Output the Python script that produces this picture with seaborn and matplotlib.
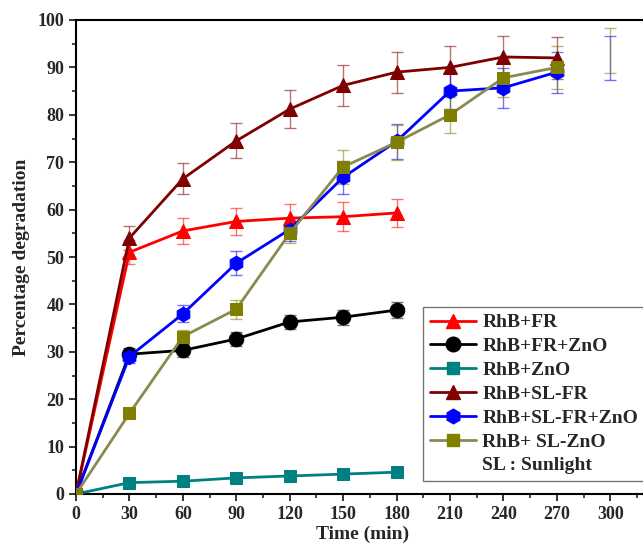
import matplotlib
matplotlib.use("Agg")
import matplotlib.pyplot as plt
import seaborn as sns
import numpy as np
import pandas as pd
from matplotlib.lines import Line2D

sns.set_theme(style="ticks")
plt.rcParams['font.family'] = ['Liberation Serif', 'DejaVu Serif']
plt.rcParams['font.weight'] = 'bold'

time_short = [0, 30, 60, 90, 120, 150, 180]
time_long = [0, 30, 60, 90, 120, 150, 180, 210, 240, 270]

rhb_fr = [0, 51.0, 55.5, 57.5, 58.2, 58.5, 59.3]
rhb_fr_err = [0, 2.5, 2.7, 2.9, 3.0, 3.0, 3.0]
rhb_fr_zno = [0, 29.5, 30.3, 32.7, 36.3, 37.3, 38.8]
rhb_fr_zno_err = [0, 1.2, 1.3, 1.4, 1.5, 1.6, 1.7]
rhb_zno = [0, 2.4, 2.7, 3.4, 3.8, 4.2, 4.6]
rhb_zno_err = [0, 0.4, 0.4, 0.4, 0.4, 0.4, 0.4]
rhb_sl_fr = [0, 54.0, 66.5, 74.5, 81.2, 86.2, 89.0, 90.0, 92.2, 92.0]
rhb_sl_fr_err = [0, 2.5, 3.3, 3.7, 4.0, 4.3, 4.3, 4.5, 4.5, 4.5]
rhb_sl_fr_zno = [0, 29.0, 38.0, 48.7, 55.8, 66.8, 74.4, 85.0, 85.7, 89.0]
rhb_sl_fr_zno_err = [0, 1.3, 1.8, 2.5, 2.5, 3.5, 3.7, 3.8, 4.2, 4.3]
rhb_sl_zno = [0, 17.0, 33.2, 39.0, 55.0, 69.0, 74.2, 80.0, 87.8, 90.0]
rhb_sl_zno_err = [0, 0.8, 1.5, 2.0, 2.0, 3.5, 3.7, 3.8, 4.0, 4.5]

# stray error bars at t = 300 (no markers)
stray_t = [300]
stray_blue = [92.0]
stray_blue_err = [4.6]
stray_olive = [93.6]
stray_olive_err = [4.7]

series = [
    ("RhB+FR", time_short, rhb_fr, rhb_fr_err, "#FF0000", "#FF0000", "^", 10.5),
    ("RhB+FR+ZnO", time_short, rhb_fr_zno, rhb_fr_zno_err, "#000000", "#000000", "o", 10.5),
    ("RhB+ZnO", time_short, rhb_zno, rhb_zno_err, "#008080", "#008080", "s", 8.5),
    ("RhB+SL-FR", time_long, rhb_sl_fr, rhb_sl_fr_err, "#800000", "#800000", "^", 10.5),
    ("RhB+SL-FR+ZnO", time_long, rhb_sl_fr_zno, rhb_sl_fr_zno_err, "#0000FF", "#0000FF", "h", 10.5),
    ("RhB+ SL-ZnO", time_long, rhb_sl_zno, rhb_sl_zno_err, "#8A8A50", "#808000", "s", 8.5),
]

fig = plt.figure(figsize=(6.43, 5.48), dpi=100)
ax = fig.add_axes([76/643, 1-494/548, 1-76/643 + 0.01, (494-20)/548])

handles = []
for name, t, y, e, lc, mc, mk, ms in series:
    ax.errorbar(t, y, yerr=e, fmt='none', ecolor=mc, alpha=0.55, elinewidth=1.0,
                capsize=4, capthick=1.0, zorder=2)
    df = pd.DataFrame({"t": t, "v": y})
    sns.lineplot(data=df, x="t", y="v", ax=ax, color=lc, linewidth=2.0,
                 marker=mk, markersize=ms, markerfacecolor=mc, markeredgecolor=mc,
                 zorder=3)
    handles.append(Line2D([0], [0], color=lc, lw=2.0, marker=mk, markersize=ms,
                          markerfacecolor=mc, markeredgecolor=mc, label=name))

ax.errorbar(stray_t, stray_blue, yerr=stray_blue_err, fmt='none', ecolor="#0000FF",
            alpha=0.55, elinewidth=1.0, capsize=4, capthick=1.0)
ax.errorbar(stray_t, stray_olive, yerr=stray_olive_err, fmt='none', ecolor="#808000",
            alpha=0.55, elinewidth=1.0, capsize=4, capthick=1.0)

handles.append(Line2D([0], [0], color='none', label="SL : Sunlight"))

ax.set_xlim(0, 322)
ax.set_ylim(0, 100)
ax.set_xticks(np.arange(0, 301, 30))
ax.set_xticks(np.arange(15, 321, 15), minor=True)
ax.set_yticks(np.arange(0, 101, 10))
ax.set_yticks(np.arange(5, 100, 10), minor=True)
ax.tick_params(axis='both', which='major', labelsize=13, length=5, width=1.3, direction='out')
ax.tick_params(axis='both', which='minor', length=3, width=1.2, direction='out')
for lab in ax.get_xticklabels() + ax.get_yticklabels():
    lab.set_fontweight('bold')
for sp in ax.spines.values():
    sp.set_linewidth(1.5)
    sp.set_color('black')

ax.set_xlabel("Time (min)", fontsize=14, fontweight='bold', labelpad=2)
ax.set_ylabel("Percentage degradation", fontsize=14, fontweight='bold', labelpad=5)

leg = ax.legend(handles=handles, loc='upper left', bbox_to_anchor=(423/643, 1-307/548),
                bbox_transform=fig.transFigure, frameon=True, fancybox=False,
                prop={'size': 14, 'weight': 'bold'}, handlelength=2.4,
                borderaxespad=0, borderpad=0.35, labelspacing=0.32, handletextpad=0.3)
leg.get_frame().set_edgecolor('#555555')
leg.get_frame().set_linewidth(1.0)

fig.savefig("out.png", dpi=100)
